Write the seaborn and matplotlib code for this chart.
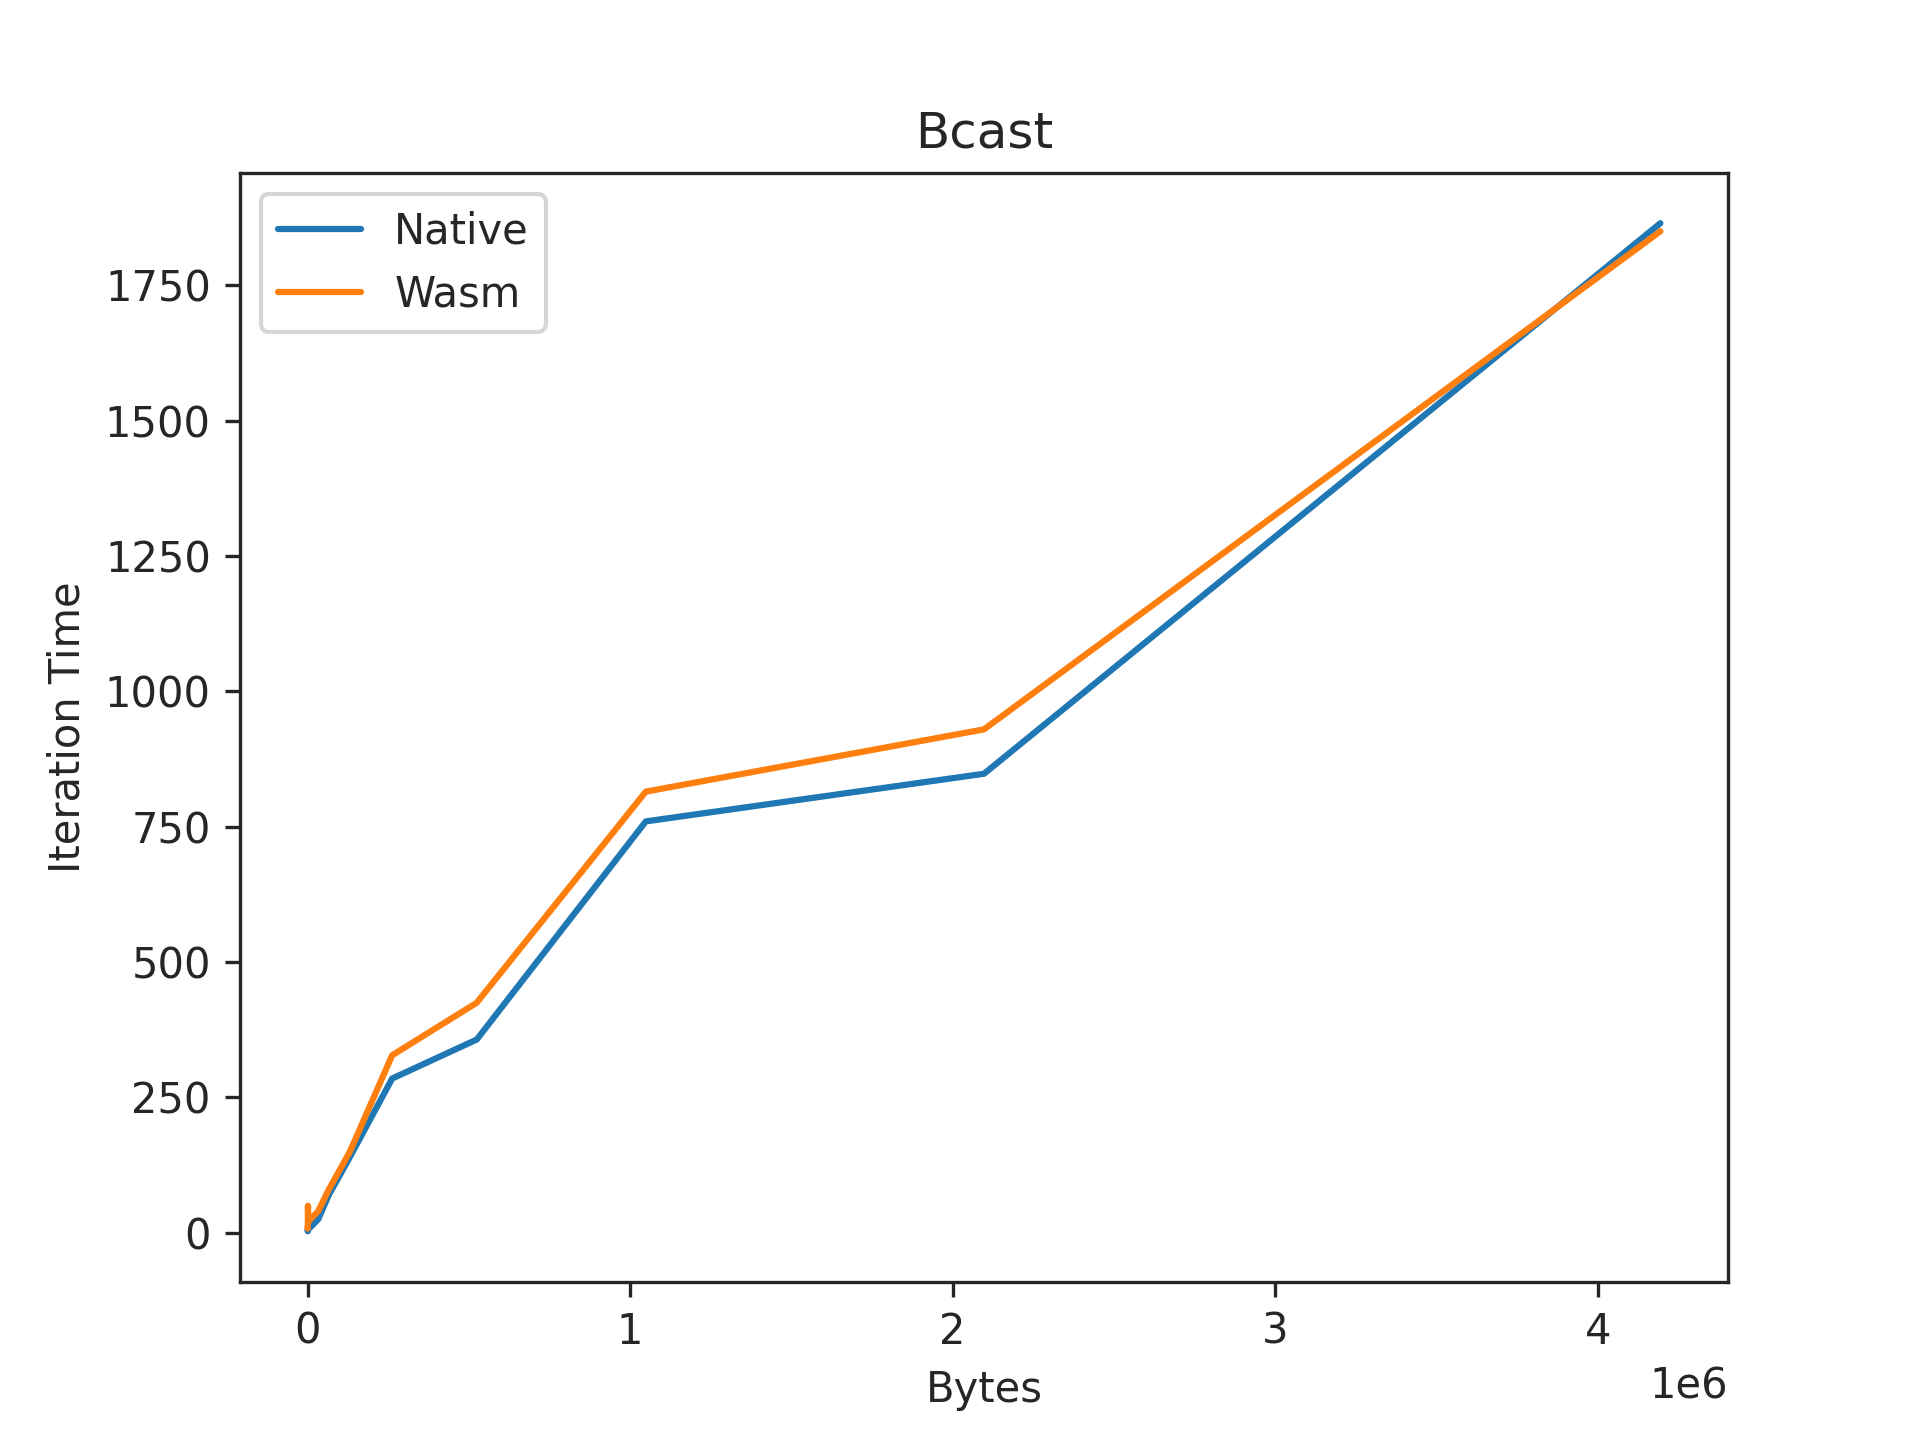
import numpy as np
import pandas as pd
import matplotlib
matplotlib.use("Agg")
import matplotlib.pyplot as plt
import seaborn as sns

sizes = [1, 2, 4, 8, 16, 32, 64, 128, 256, 512, 1024, 2048, 4096, 8192,
         16384, 32768, 65536, 131072, 262144, 524288, 1048576, 2097152, 4194304]
native = [3, 3, 3, 3, 3, 4, 4, 4, 5, 5, 6, 7, 8, 10,
          15, 25, 70, 140, 285, 357, 760, 848, 1865]
wasm = [8, 8, 8, 8, 8, 9, 10, 10, 12, 14, 50, 20, 22, 25,
        30, 40, 80, 150, 328, 425, 815, 930, 1850]

df = pd.DataFrame({
    "Bytes": sizes * 2,
    "Iteration Time": native + wasm,
    "impl": ["Native"] * len(sizes) + ["Wasm"] * len(sizes),
})

sns.set_style("ticks")
plt.rcParams["font.family"] = ["DejaVu Sans"]
fig, ax = plt.subplots(figsize=(6.4, 4.8), dpi=300)
sns.lineplot(data=df, x="Bytes", y="Iteration Time", hue="impl",
             palette=["#1f77b4", "#ff7f0e"], ax=ax)
ax.legend(title=None, loc="upper left")
ax.set_title("Bcast")
fig.savefig("out.png", dpi=300)
